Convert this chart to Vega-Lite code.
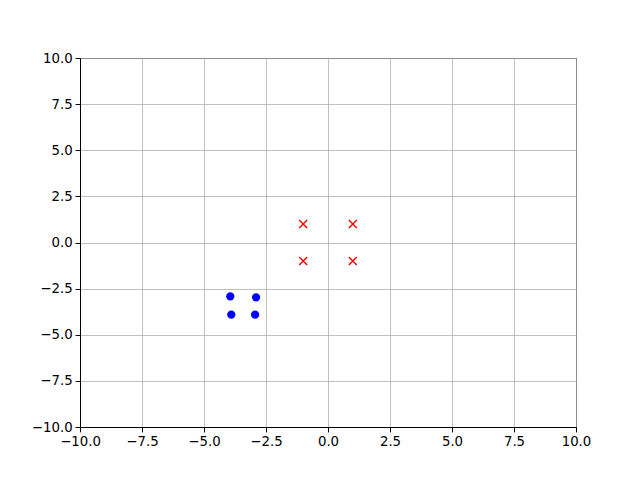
{
  "$schema": "https://vega.github.io/schema/vega-lite/v6.json",
  "width": 496,
  "height": 369,
  "autosize": {"type": "none"},
  "padding": {"left": 80, "top": 58, "right": 64, "bottom": 53},
  "background": "white",
  "config": {
    "view": {"stroke": "black", "strokeWidth": 1},
    "font": "DejaVu Sans",
    "axis": {
      "grid": true,
      "gridColor": "#b0b0b0",
      "gridWidth": 0.8,
      "domainColor": "black",
      "domainWidth": 1,
      "tickColor": "black",
      "tickSize": 4.9,
      "tickWidth": 1,
      "labelFont": "DejaVu Sans",
      "labelFontSize": 13.3,
      "labelColor": "black",
      "labelPadding": 3,
      "title": null,
      "labelFlush": false,
      "labelOverlap": false
    }
  },
  "data": {
    "values": [
      {"x": -3.94, "y": -2.92, "group": "blue"},
      {"x": -2.9, "y": -2.97, "group": "blue"},
      {"x": -3.9, "y": -3.91, "group": "blue"},
      {"x": -2.94, "y": -3.91, "group": "blue"},
      {"x": -1, "y": 1, "group": "red"},
      {"x": 1, "y": 1, "group": "red"},
      {"x": -1, "y": -1, "group": "red"},
      {"x": 1, "y": -1, "group": "red"}
    ]
  },
  "encoding": {
    "x": {
      "field": "x", "type": "quantitative",
      "scale": {"domain": [-10, 10], "nice": false, "zero": false},
      "axis": {"values": [-10, -7.5, -5, -2.5, 0, 2.5, 5, 7.5, 10], "format": ".1f"}
    },
    "y": {
      "field": "y", "type": "quantitative",
      "scale": {"domain": [-10, 10], "nice": false, "zero": false},
      "axis": {"values": [-10, -7.5, -5, -2.5, 0, 2.5, 5, 7.5, 10], "format": ".1f"}
    }
  },
  "layer": [
    {
      "transform": [{"filter": "datum.group === 'blue'"}],
      "mark": {"type": "point", "shape": "circle", "filled": true, "color": "#0000ff", "size": 68, "opacity": 1}
    },
    {
      "transform": [{"filter": "datum.group === 'red'"}],
      "mark": {"type": "point", "shape": "M-1,-1L1,1M-1,1L1,-1", "filled": false, "stroke": "#ff0000", "strokeWidth": 1.4, "size": 64, "opacity": 1}
    }
  ]
}
